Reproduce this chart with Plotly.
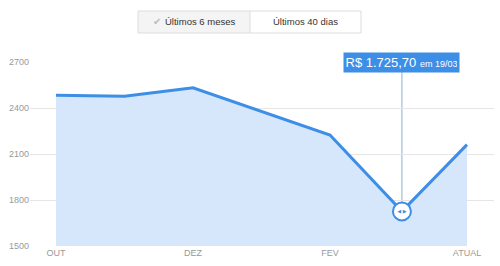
import plotly.graph_objects as go

# ---- data ----
x_pos = [0, 1, 2, 4, 5.05, 6]
values = [2483, 2476, 2532, 2224, 1725.70, 2161]
tick_vals = [0, 2, 4, 6]
tick_text = ["OUT", "DEZ", "FEV", "ATUAL"]
y_ticks = [1500, 1800, 2100, 2400, 2700]
sel_x = 5.05
sel_val = 1725.70
sel_label = "R$ 1.725,70"
sel_date = "em 19/03"

W, H = 500, 266
ML, MR, MT, MB = 30, 6, 62, 20
PW, PH = W - ML - MR, H - MT - MB

def px(xp):
    return (xp - ML) / PW

def py(yp):
    return (H - MB - yp) / PH

LINE = "#3d8ee6"
FONT = "Liberation Sans, Arial, sans-serif"

fig = go.Figure()
fig.add_trace(go.Scatter(
    x=x_pos, y=values, mode="lines", fill="tozeroy",
    fillcolor="#d6e7fb", line=dict(color=LINE, width=3),
    hoverinfo="skip", showlegend=False))

# selected point marker
fig.add_trace(go.Scatter(
    x=[sel_x], y=[sel_val], mode="markers+text",
    marker=dict(size=18, color="white", line=dict(color=LINE, width=2)),
    text=["◀ ▶"], textposition="middle center",
    textfont=dict(size=5, color=LINE, family="DejaVu Sans"),
    hoverinfo="skip", showlegend=False))

shapes = []
# vertical crosshair
shapes.append(dict(type="line", xref="x", yref="paper", x0=sel_x, x1=sel_x,
                   y0=0, y1=py(72), line=dict(color="#8cb2d8", width=1), layer="below"))
# button group
shapes.append(dict(type="rect", xref="paper", yref="paper",
                   x0=px(138), x1=px(250), y0=py(33), y1=py(11),
                   fillcolor="#f4f4f4", line=dict(width=0)))
shapes.append(dict(type="rect", xref="paper", yref="paper",
                   x0=px(138), x1=px(361), y0=py(33), y1=py(11),
                   fillcolor="rgba(0,0,0,0)", line=dict(color="#dddddd", width=1)))
shapes.append(dict(type="line", xref="paper", yref="paper",
                   x0=px(250), x1=px(250), y0=py(33), y1=py(11),
                   line=dict(color="#dddddd", width=1)))

annotations = [
    dict(xref="x", yref="paper", x=sel_x, y=py(62.5), xanchor="center", yanchor="middle",
         text=f"{sel_label} <span style='font-size:9px'>{sel_date}</span>",
         showarrow=False, bgcolor=LINE, font=dict(color="white", size=13, family=FONT),
         width=111, height=15, borderpad=2),
    dict(xref="paper", yref="paper", x=px(151), y=py(22), xanchor="left", yanchor="middle",
         text="✔", showarrow=False, font=dict(color="#bbbbbb", size=10, family="DejaVu Sans")),
    dict(xref="paper", yref="paper", x=px(163), y=py(22), xanchor="left", yanchor="middle",
         text="Últimos 6 meses", showarrow=False, font=dict(color="#333333", size=9.5, family=FONT)),
    dict(xref="paper", yref="paper", x=px(305), y=py(22), xanchor="center", yanchor="middle",
         text="Últimos 40 dias", showarrow=False, font=dict(color="#333333", size=9.5, family=FONT)),
]

fig.update_layout(
    width=W, height=H, margin=dict(l=ML, r=MR, t=MT, b=MB),
    paper_bgcolor="white", plot_bgcolor="white",
    shapes=shapes, annotations=annotations,
    font=dict(family=FONT, color="#999999", size=9),
    xaxis=dict(range=[(ML - 56) / 68.5, (ML + PW - 56) / 68.5], tickvals=tick_vals,
               ticktext=tick_text, showgrid=False, zeroline=False, showline=False,
               ticks="", tickfont=dict(size=9, color="#999999"), fixedrange=True),
    yaxis=dict(range=[1500, 2700], tickvals=y_ticks, showgrid=True, gridcolor="#e6e6e6",
               gridwidth=1, zeroline=False, showline=False, ticks="",
               tickfont=dict(size=9, color="#999999"), fixedrange=True, layer="below traces"),
)

fig.write_html("out.html", config={"displayModeBar": False})
